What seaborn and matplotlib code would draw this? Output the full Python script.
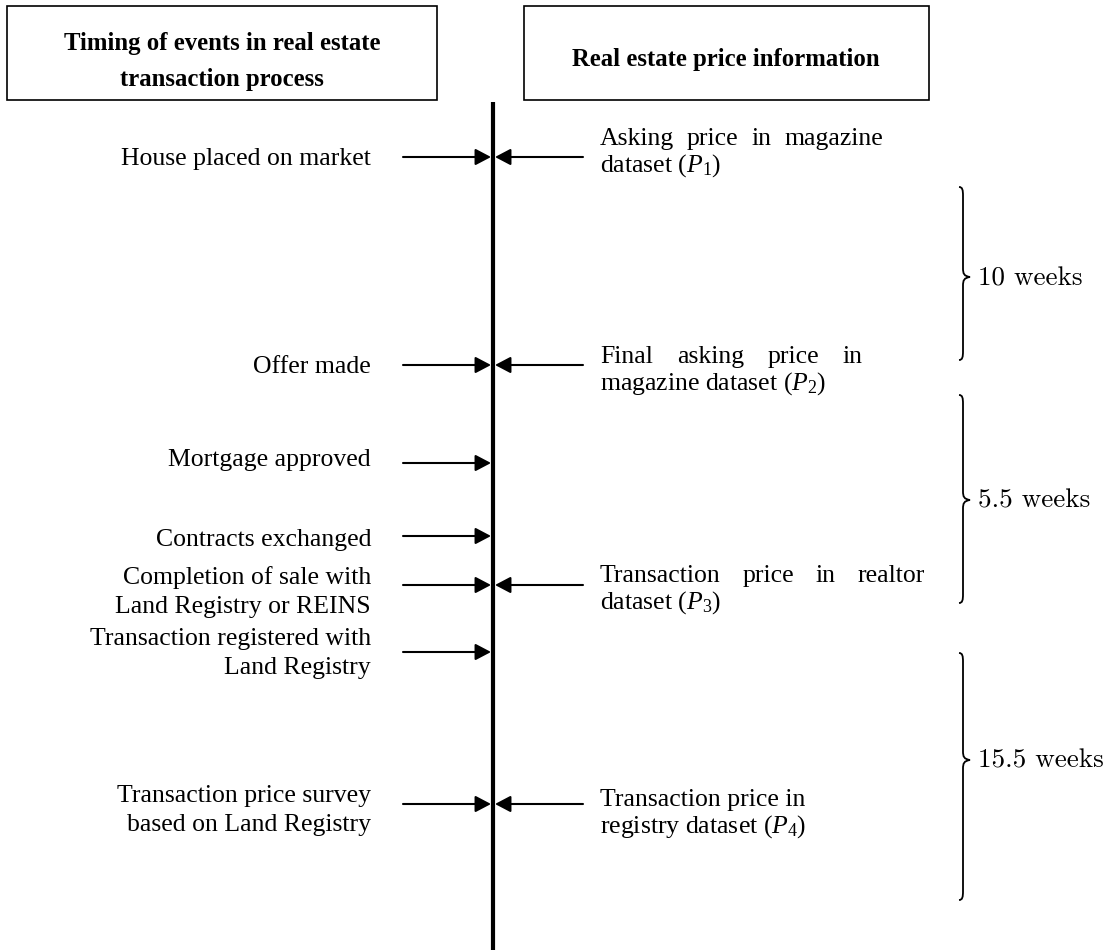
import matplotlib
matplotlib.use("Agg")
import matplotlib.pyplot as plt
from matplotlib.patches import Rectangle, PathPatch
from matplotlib.path import Path
import seaborn as sns

# events in the transaction process, top = earliest
EVENTS = [
    ["House placed on market"],
    ["Offer made"],
    ["Mortgage approved"],
    ["Contracts exchanged"],
    ["Completion of sale with", "Land Registry or REINS"],
    ["Transaction registered with", "Land Registry"],
    ["Transaction price survey", "based on Land Registry"],
]
EVENT_POS = [157, 365, 463, 536, 585, 652, 804]  # schematic timeline position

# price information and the event it is attached to
PRICES = [
    ["Asking price in magazine", r"dataset ($P_1$)"],
    ["Final asking price in", r"magazine dataset ($P_2$)"],
    ["Transaction price in realtor", r"dataset ($P_3$)"],
    ["Transaction price in", r"registry dataset ($P_4$)"],
]
PRICE_EVENT = [0, 1, 4, 6]

PERIODS = ["10 weeks", "5.5 weeks", "15.5 weeks"]
PERIOD_SPAN = [(187, 360), (395, 603), (653, 900)]
PERIOD_TIP = [277, 500, 760]

HEADERS = [
    ["Timing of events in real estate", "transaction process"],
    ["Real estate price information"],
]

# layout (pixels)
W, H = 1115, 950
TL_X = 493
LEFT_TXT_X, RIGHT_TXT_X = 371, 600
LEFT_ARROW_X, RIGHT_ARROW_X = 403, 583
LEFT_DY = [8, 8, 3, 10, -1, -7, -2]
RIGHT_DY = [-12, -2, -3, 2]
JUSTIFY_TO = [883, 863, 925, None]
LEFT_GAP, RIGHT_GAP = 29, 27
BODY, HEAD, WEEKS = 18.5, 17.8, 19.5


def draw_brace(ax, x, top, bottom, tip, w=7, r=9):
    verts = [
        (x - 4, top),
        (x - 0.5, top), (x, top + 3), (x, top + r),
        (x, tip - r),
        (x, tip - 3), (x + 1, tip - 1), (x + w, tip),
        (x + 1, tip + 1), (x, tip + 3), (x, tip + r),
        (x, bottom - r),
        (x, bottom - 3), (x - 0.5, bottom), (x - 4, bottom),
    ]
    codes = ([Path.MOVETO] + [Path.CURVE4] * 3 + [Path.LINETO] + [Path.CURVE4] * 6
             + [Path.LINETO] + [Path.CURVE4] * 3)
    ax.add_patch(PathPatch(Path(verts, codes), fill=False, lw=1.3, edgecolor="black"))


def arrow(ax, x0, x1, y):
    ax.annotate("", xy=(x1, y), xytext=(x0, y),
                arrowprops=dict(arrowstyle="-|>,head_length=0.95,head_width=0.5",
                                mutation_scale=10, lw=1.5, color="black",
                                shrinkA=0, shrinkB=0))


def main() -> None:
    sns.set_theme(style="white")
    plt.rcParams["font.family"] = ["Liberation Serif", "DejaVu Serif"]
    plt.rcParams["text.color"] = "black"
    plt.rcParams["mathtext.fontset"] = "custom"
    plt.rcParams["mathtext.rm"] = "Liberation Serif"
    plt.rcParams["mathtext.it"] = "Liberation Serif:italic"

    fig = plt.figure(figsize=(W / 100, H / 100), dpi=100)
    ax = fig.add_axes([0, 0, 1, 1])
    ax.set_xlim(0, W)
    ax.set_ylim(H, 0)
    ax.set_axis_off()
    renderer = fig.canvas.get_renderer()

    # header boxes
    ax.add_patch(Rectangle((7, 6), 430, 94, fill=False, lw=1.2, edgecolor="black"))
    ax.add_patch(Rectangle((524, 6), 405, 94, fill=False, lw=1.2, edgecolor="black"))
    for i, line in enumerate(HEADERS[0]):
        ax.text(222, 50 + 36 * i, line, ha="center", va="baseline",
                fontsize=HEAD, fontweight="bold")
    ax.text(726, 66, HEADERS[1][0], ha="center", va="baseline",
            fontsize=HEAD, fontweight="bold")

    # timeline
    ax.plot([TL_X, TL_X], [102, H], color="black", lw=3, solid_capstyle="butt")

    # events on the left
    for lines, pos, dy in zip(EVENTS, EVENT_POS, LEFT_DY):
        arrow(ax, LEFT_ARROW_X, TL_X - 2, pos)
        for k, line in enumerate(lines):
            ax.text(LEFT_TXT_X, pos + dy + LEFT_GAP * k, line, ha="right",
                    va="baseline", fontsize=BODY)

    # price information on the right
    for lines, ev, dy, right in zip(PRICES, PRICE_EVENT, RIGHT_DY, JUSTIFY_TO):
        pos = EVENT_POS[ev]
        arrow(ax, RIGHT_ARROW_X, TL_X + 2, pos)
        for k, line in enumerate(lines):
            y = pos + dy + RIGHT_GAP * k
            if k == 0 and right is not None:
                # justified first line, as in the source layout
                words = line.split()
                texts = [ax.text(0, y, wd, ha="left", va="baseline", fontsize=BODY)
                         for wd in words]
                widths = [t.get_window_extent(renderer).width for t in texts]
                gap = (right - RIGHT_TXT_X - sum(widths)) / (len(words) - 1)
                x = RIGHT_TXT_X
                for t, wd in zip(texts, widths):
                    t.set_x(x)
                    x += wd + gap
            else:
                ax.text(RIGHT_TXT_X, y, line, ha="left", va="baseline", fontsize=BODY)

    # durations between price observations
    for label, (top, bottom), tip in zip(PERIODS, PERIOD_SPAN, PERIOD_TIP):
        draw_brace(ax, 963, top, bottom, tip)
        ax.text(978, tip + 8, label, ha="left", va="baseline", fontsize=WEEKS,
                family="cmr10")

    fig.savefig("out.png", dpi=100, facecolor="white")
    plt.close(fig)


if __name__ == "__main__":
    main()
